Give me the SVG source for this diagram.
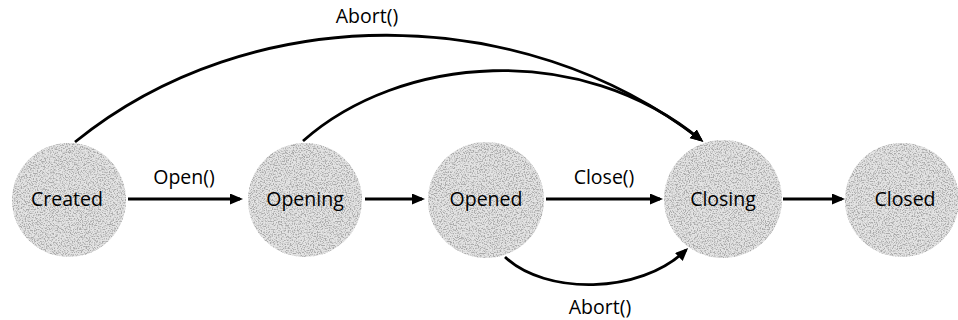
<svg xmlns="http://www.w3.org/2000/svg" width="958" height="320" viewBox="0 0 958 320">
  <defs>
    <style>
      .state { fill: #e4e4e4; filter: url(#grain); }
      .label { font-family: "Open Sans", "Noto Sans", "Liberation Sans", sans-serif; font-size: 19.5px; fill: #000; text-anchor: middle; }
      .edge { fill: none; stroke: #000; stroke-width: 2.8; }
    </style>
    <!-- speckled fill for the state circles -->
    <filter id="grain" x="0" y="0" width="100%" height="100%">
      <feTurbulence type="fractalNoise" baseFrequency="0.75" numOctaves="2" seed="7" result="noise"/>
      <feColorMatrix in="noise" type="matrix" values="0 0 0 0 0.4  0 0 0 0 0.4  0 0 0 0 0.4  -4.2 0 0 0 2.35" result="dots"/>
      <feComposite in="dots" in2="SourceAlpha" operator="in" result="clipped"/>
      <feMerge>
        <feMergeNode in="SourceGraphic"/>
        <feMergeNode in="clipped"/>
      </feMerge>
    </filter>
    <marker id="arrow" markerUnits="userSpaceOnUse" markerWidth="14" markerHeight="12" refX="10" refY="5.5" orient="auto">
      <path d="M0,0 L13,5.5 L0,11 z" fill="#000"/>
    </marker>
  </defs>

  <rect width="958" height="320" fill="#fff"/>

  <g id="connectors">
    <path class="edge" d="M128,199 L240,199" marker-end="url(#arrow)"/>
    <path class="edge" d="M365,199 L422,199" marker-end="url(#arrow)"/>
    <path class="edge" d="M546,199 L660,199" marker-end="url(#arrow)"/>
    <path class="edge" d="M783,199 L842,199" marker-end="url(#arrow)"/>
    <path class="edge" d="M75,142 C250,0 520,0 701,140" marker-end="url(#arrow)"/>
    <path class="edge" d="M303,141 C400,55 580,40 701,140" marker-end="url(#arrow)"/>
    <path class="edge" d="M505,257 C545,295 640,295 686,250" marker-end="url(#arrow)"/>
    <text class="label" x="184" y="184">Open()</text>
    <text class="label" x="604" y="184">Close()</text>
    <text class="label" x="367" y="23">Abort()</text>
    <text class="label" x="600" y="314">Abort()</text>
  </g>

  <g id="created">
    <circle class="state" cx="69" cy="200" r="57"/>
    <text class="label" x="67" y="206">Created</text>
  </g>
  <g id="opening">
    <circle class="state" cx="305" cy="200" r="57"/>
    <text class="label" x="305" y="206">Opening</text>
  </g>
  <g id="opened">
    <circle class="state" cx="486" cy="200" r="58"/>
    <text class="label" x="486" y="206">Opened</text>
  </g>
  <g id="closing">
    <circle class="state" cx="723" cy="199" r="59"/>
    <text class="label" x="723" y="206">Closing</text>
  </g>
  <g id="closed">
    <circle class="state" cx="902" cy="200" r="57"/>
    <text class="label" x="905" y="206">Closed</text>
  </g>
</svg>
